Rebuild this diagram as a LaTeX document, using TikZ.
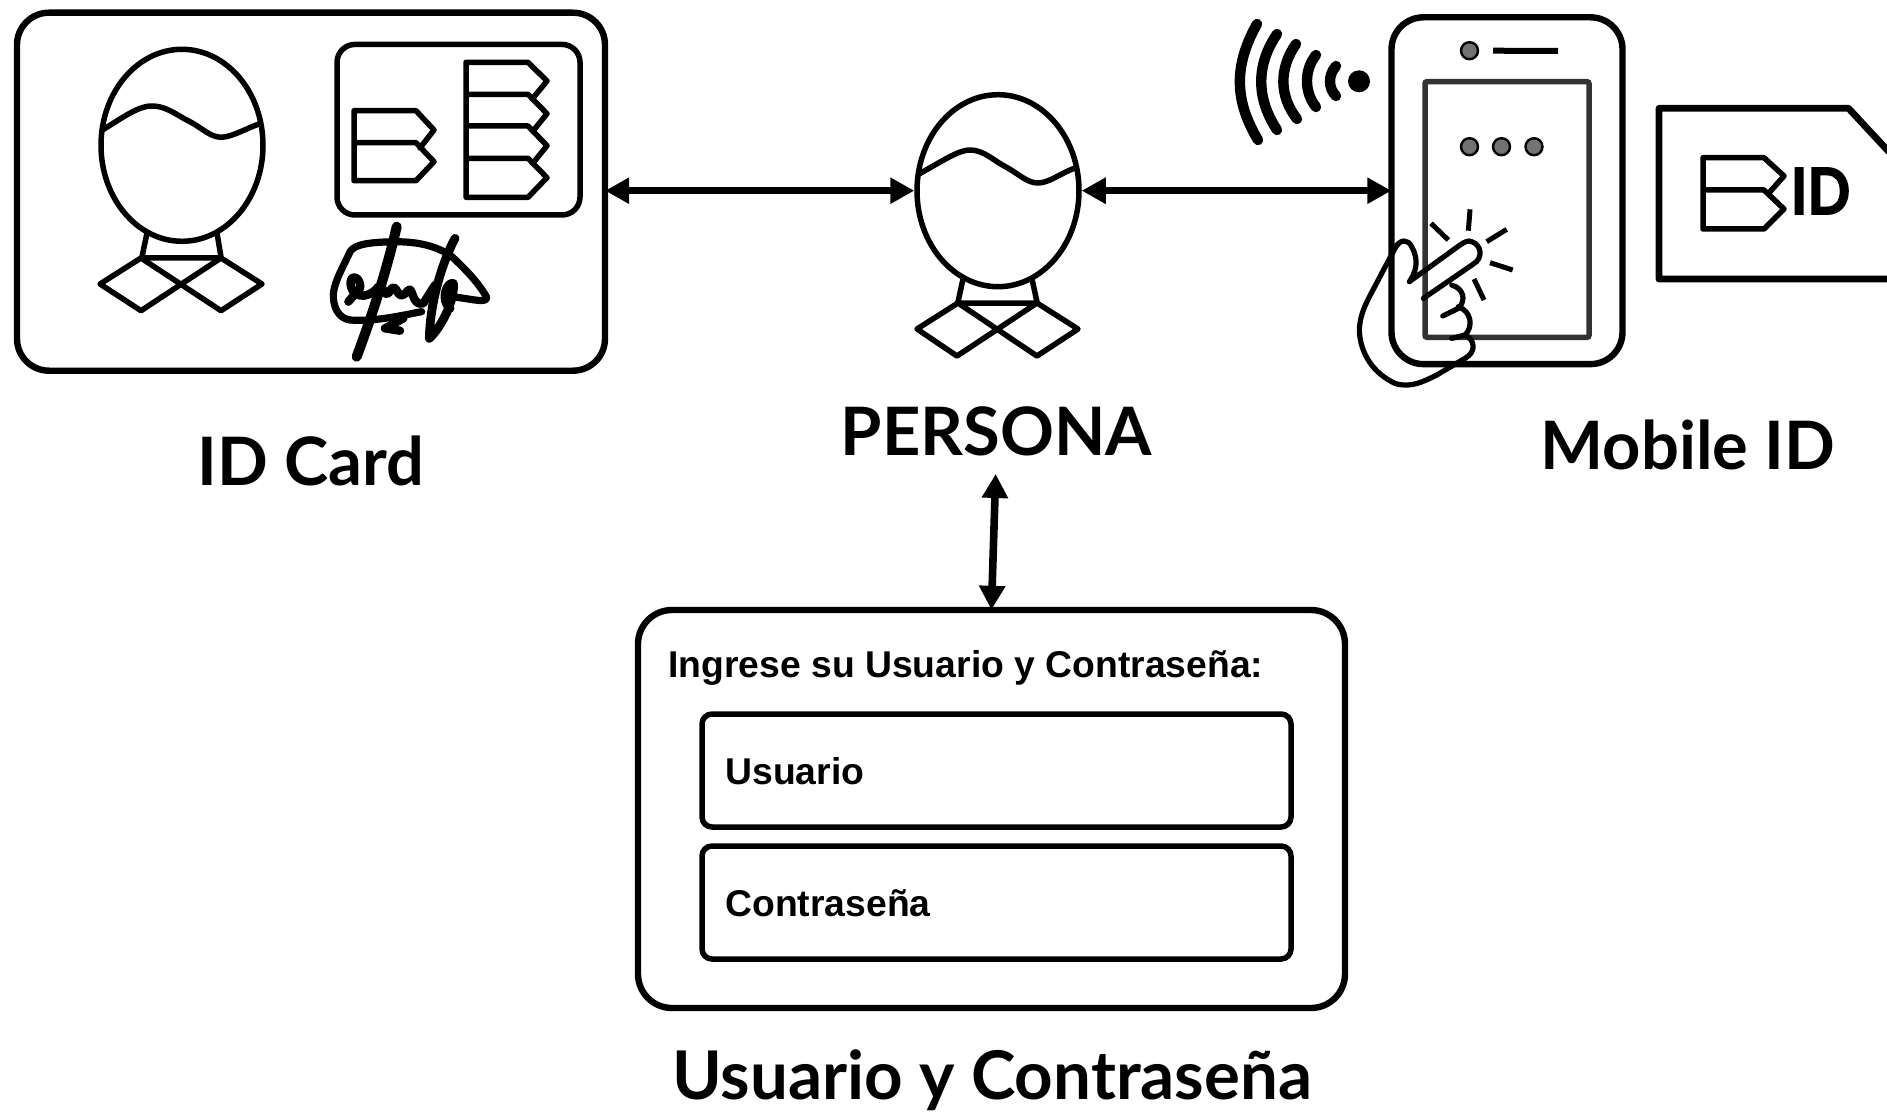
\documentclass[tikz,border=0pt]{standalone}
\usepackage{fontspec}
\usepackage{graphicx}
\setmainfont{Lato}
\newfontfamily\lib{Liberation Sans}
\newfontfamily\idface[FakeBold=2.4]{Lato Bold}
\usetikzlibrary{shapes.geometric,arrows.meta}
\tikzset{
  ln/.style={draw=black,line width=2.75pt,line join=round,line cap=round},
  box/.style={draw=black,line width=3.2pt,rounded corners=16pt,inner sep=0pt,fill=none},
  headshape/.style={ellipse,draw=black,line width=2.75pt,inner sep=0pt,minimum width=81pt,minimum height=96pt},
  dbl/.style={line width=3.8pt,{Triangle[length=12pt,width=12.5pt]}-{Triangle[length=12pt,width=12.5pt]}},
  caption/.style={font=\bfseries\fontsize{33.4}{36}\selectfont,inner sep=0pt},
  formtxt/.style={font=\lib\bfseries\fontsize{18.65}{20}\selectfont,inner sep=0pt,anchor=west},
  field/.style={box,rounded corners=5pt,line width=2.75pt,minimum width=294.5pt,minimum height=56.5pt},
  graydot/.style={circle,draw=black,fill=gray!90!black,line width=1.2pt,inner sep=0pt,minimum size=8.5pt},
  sig/.style={draw=black,line width=3.6pt,line cap=round,line join=round},
  arcw/.style={draw=black,line width=5.2pt,line cap=round},
  ray/.style={draw=black,line width=2.5pt},
}
\begin{document}
\begin{tikzpicture}[x=.5pt,y=-.5pt]
\useasboundingbox (0,0) rectangle (1887,1113);
% ID card
\node[box,minimum width=294pt,minimum height=179pt] (card) at (311,191.7) {};
\node[headshape] (f1) at (182,145.3) {};
\draw[ln] (103.6,129.3) .. controls (125,116) and (140,105) .. (154,106) .. controls (168,107) and (178,116) .. (190,121.7) .. controls (202,128) and (210,137) .. (221,137.3) .. controls (232,137) and (245,129) .. (259,124);
\draw[ln] (147,233)--(142,257) (217,233)--(221,257) (141,258)--(221,258);
\draw[ln] (141,258)--(100,284)--(141,310.7)--(221,258) (141,258)--(221,310.7)--(262,284)--(221,258);
\node[box,rounded corners=9pt,line width=2.75pt,minimum width=121.5pt,minimum height=85.3pt] (chip) at (458.5,129.7) {};
\draw[ln] (354,110.7)--(416,110.7)--(434,130)--(420,148) (354,142.7)--(416,142.7)--(434,161.7)--(416,180.7)--(354,180.7)--cycle (354,110.7)--(354,142.7);
\draw[ln] (466,62.3)--(528,62.3)--(547,81)--(533,98) (466,94.3)--(528,94.3)--(547,113.7)--(533,131) (466,126)--(528,126)--(547,145.7)--(533,163) (466,158.3)--(528,158.3)--(547,177.7)--(528,197.3)--(466,197.3)--cycle (466,62.3)--(466,158.3);
% signature
\begin{scope}[shift={(310,210)},x=.1667pt,y=-.1667pt]
\draw[sig] (335,305) .. controls (280,315) and (200,335) .. (120,330) .. controls (85,325) and (68,290) .. (70,250) .. controls (75,210) and (100,170) .. (120,125) .. controls (135,100) and (190,97) .. (250,95) .. controls (320,95) and (370,105) .. (420,135) .. controls (470,180) and (510,225) .. (530,262) .. controls (530,280) and (490,268) .. (440,262);
\draw[sig,line width=5pt] (260,50) .. controls (240,140) and (200,280) .. (140,440);
\draw[sig,line width=4.4pt] (435,85) .. controls (400,150) and (360,270) .. (358,385) .. controls (395,350) and (435,270) .. (430,220) .. controls (410,215) and (390,270) .. (420,295);
\draw[sig,line width=4.2pt] (115,275) -- (150,235) .. controls (155,205) and (125,190) .. (122,215) .. controls (118,260) and (170,275) .. (205,230) .. controls (225,220) and (220,280) .. (245,235) .. controls (265,220) and (260,285) .. (295,240) .. controls (310,230) and (305,290) .. (340,280) -- (375,225);
\draw[sig,line width=4.2pt] (280,325) -- (225,355) -- (270,362);
\end{scope}
\node[caption] (l1) at (311,461) {ID Card};
% person
\node[headshape] (f2) at (998,190.7) {};
\draw[ln] (919,174) .. controls (944,160) and (959,150) .. (970,150) .. controls (984,150) and (994,161) .. (1006,167) .. controls (1019,174) and (1027,183) .. (1038,183) .. controls (1049,183) and (1061,173) .. (1075,168);
\draw[ln] (963,279)--(958,302) (1032,279)--(1037,302) (958,303)--(1037,303);
\draw[ln] (958,303)--(917,329)--(957,356)--(1037,303) (958,303)--(1037,356)--(1078,329)--(1037,303);
\node[caption] (l2) at (996.5,431) {PERSONA};
% phone
\node[box,line width=3.2pt,minimum width=115.5pt,minimum height=173.4pt] (phone) at (1507,190.7) {};
\node[draw=black!80,line width=2.75pt,inner sep=0pt,rounded corners=1pt,minimum width=82pt,minimum height=127.8pt] (screen) at (1507,209.5) {};
\node[graydot] (c0) at (1469.5,50.7) {};
\node[graydot] (d1) at (1469.5,146.7) {};
\node[graydot] (d2) at (1501.5,146.7) {};
\node[graydot] (d3) at (1534,146.7) {};
\draw[line width=3pt] (1493,50.7)--(1558,51);
\node[circle,fill=black,inner sep=0pt,minimum size=11pt] (wdot) at (1359,81.3) {};
\draw[arcw] (1257,24) .. controls (1234,65) and (1234,100) .. (1258,140);
\draw[arcw] (1277,34) .. controls (1256,65) and (1256,98) .. (1277,130);
\draw[arcw] (1296,44) .. controls (1279,68) and (1279,96) .. (1297,119);
\draw[arcw] (1316,55) .. controls (1304,70) and (1304,92) .. (1316,107);
\draw[arcw] (1336,66) .. controls (1328,75) and (1328,88) .. (1336,96);
% hand
\begin{scope}[shift={(1340,190)},x=.1667pt,y=-.1667pt]
\draw[ln,line width=2.6pt] (250,325) -- (400,222) .. controls (430,205) and (425,165) .. (395,155) .. controls (385,150) and (375,155) .. (360,165) -- (208,275) .. controls (225,250) and (240,215) .. (215,170) .. controls (205,148) and (180,145) .. (165,175) -- (125,250) .. controls (90,320) and (60,360) .. (58,420) .. controls (60,490) and (100,550) .. (165,580) .. controls (210,595) and (250,575) .. (290,555) -- (375,505) .. controls (410,485) and (405,450) .. (375,435) -- (335,445);
\draw[ln,line width=2.6pt] (335,285) .. controls (370,295) and (380,330) .. (355,355) -- (308,378);
\draw[ln,line width=2.6pt] (355,350) .. controls (395,365) and (400,410) .. (375,435);
\draw[ray] (273,100)--(325,150) (390,58)--(385,122) (500,118)--(440,155) (450,218)--(518,240) (402,267)--(432,330);
\end{scope}
\node[caption] (l3) at (1688,445) {Mobile ID};
% SIM
\draw[ln,line width=3.4pt] (1890,279)--(1659,279)--(1659,108.3)--(1848.5,108.3)--(1890,153);
\draw[ln] (1703,157.7)--(1764,157.7)--(1784,176)--(1768,194) (1703,190)--(1764,190)--(1784,209)--(1764,229)--(1703,229)--cycle (1703,157.7)--(1703,190);
\node[inner sep=0pt,font=\idface\fontsize{32}{34}\selectfont] (idt) at (1820.5,191) {\scalebox{.88}[1]{ID}};
% form
\node[box,rounded corners=17pt,minimum width=353.5pt,minimum height=199pt] (form) at (991.5,809) {};
\node[formtxt] (t0) at (668,668) {Ingrese su Usuario y Contraseña:};
\node[field] (u) at (996.5,770.5) {};
\node[field] (p) at (996.5,902.5) {};
\node[formtxt] (t1) at (725,771) {Usuario};
\node[formtxt] (t2) at (725,903) {Contraseña};
\node[caption,font=\bfseries\fontsize{33.6}{36}\selectfont] (l4) at (992,1080) {Usuario y Contraseña};
% connectors
\draw[dbl,shorten <=-1.5pt] (card.east |- f2.west) -- (f2.west);
\draw[dbl,shorten >=-1.5pt] (f2.east) -- (phone.west);
\coordinate (vt) at (995.7,474);
\draw[dbl,shorten >=-1.5pt] (vt) -- (form.north);
\end{tikzpicture}
\end{document}
